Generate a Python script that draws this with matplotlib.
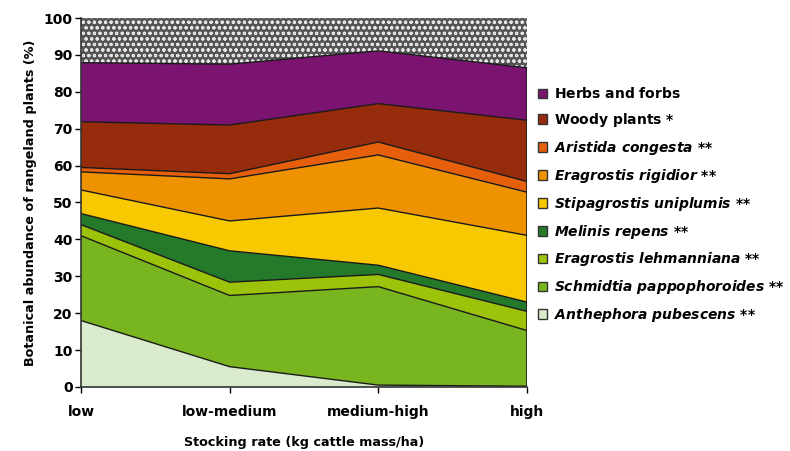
import numpy as np
import matplotlib
matplotlib.use("Agg")
import matplotlib.pyplot as plt
from matplotlib.patches import Patch

plt.rcParams['font.family'] = ['DejaVu Sans']
plt.rcParams['font.weight'] = 'bold'
plt.rcParams['mathtext.fontset'] = 'custom'
plt.rcParams['mathtext.bfit'] = 'DejaVu Sans:italic:bold'
plt.rcParams['mathtext.bf'] = 'DejaVu Sans:bold'
plt.rcParams['mathtext.it'] = 'DejaVu Sans:italic:bold'
plt.rcParams['mathtext.rm'] = 'DejaVu Sans:bold'
plt.rcParams['hatch.linewidth'] = 0.8

# stocking rate categories
rates = ["low", "low-medium", "medium-high", "high"]

# botanical abundance (%) per group, bottom to top of the stack
anthephora = [18.0, 5.5, 0.5, 0.2]
schmidtia = [23.0, 19.3, 26.7, 15.1]
lehmanniana = [3.0, 3.6, 3.3, 5.2]
melinis = [3.0, 8.5, 2.5, 2.5]
stipagrostis = [6.4, 8.1, 15.5, 18.1]
rigidior = [4.9, 11.4, 14.4, 11.7]
aristida = [1.2, 1.4, 3.5, 2.9]
woody = [12.4, 13.2, 10.4, 16.6]
herbs = [16.0, 16.5, 14.3, 14.2]

layers = [anthephora, schmidtia, lehmanniana, melinis, stipagrostis,
          rigidior, aristida, woody, herbs]
# names through mathtext so every legend row gets the same height
labels = [r"$\mathbfit{Anthephora\ pubescens}$ **",
          r"$\mathbfit{Schmidtia\ pappophoroides}$ **",
          r"$\mathbfit{Eragrostis\ lehmanniana}$ **",
          r"$\mathbfit{Melinis\ repens}$ **",
          r"$\mathbfit{Stipagrostis\ uniplumis}$ **",
          r"$\mathbfit{Eragrostis\ rigidior}$ **",
          r"$\mathbfit{Aristida\ congesta}$ **",
          r"$\mathbf{Woody\ plants}$ *",
          r"$\mathbf{Herbs\ and\ forbs}$"]
colors = ["#d9ebcc", "#78b51e", "#9dc20a", "#24792a", "#f8c800",
          "#ef9200", "#e6600c", "#962c0c", "#7a1470"]

x = np.arange(len(rates))

fig = plt.figure(figsize=(7.9, 4.51), dpi=100)
ax = fig.add_axes([0.1025, 0.142, 0.5645, 0.818])

stack = np.vstack(layers)
tops = np.cumsum(stack, axis=0)
bottoms = np.vstack([np.zeros(len(rates)), tops[:-1]])

# remaining share on top (dotted)
ax.fill_between(x, tops[-1], 100, facecolor="#555555", edgecolor="#e6e6e6",
                hatch="ooo", linewidth=0)

for b, t, c in zip(bottoms, tops, colors):
    ax.fill_between(x, b, t, facecolor=c, edgecolor="none", linewidth=0)
for t in tops:
    ax.plot(x, t, color="#1a1a1a", lw=1.0)
ax.plot([x[-1], x[-1]], [0, tops[-1][-1]], color="#1a1a1a", lw=1.2)

ax.set_xlim(0, 3)
ax.set_ylim(0, 100)
ax.set_yticks(range(0, 101, 10))
ax.set_xticks(x)
ax.set_xticklabels(rates)
ax.tick_params(axis='x', pad=9, labelsize=10, length=4, width=1, direction='out')
ax.tick_params(axis='y', labelsize=10, length=4, width=1, direction='out', pad=2)
for s in ["top", "right"]:
    ax.spines[s].set_visible(False)
for s in ["left", "bottom"]:
    ax.spines[s].set_linewidth(1.2)
    ax.spines[s].set_color("#333333")

ax.set_ylabel("Botanical abundance of rangeland plants (%)", fontsize=9.2,
              fontweight='bold', labelpad=5)
ax.set_xlabel("Stocking rate (kg cattle mass/ha)", fontsize=9.2,
              fontweight='bold', labelpad=12)

handles = [Patch(facecolor=c, edgecolor="#333333", linewidth=1.0) for c in colors]
leg = ax.legend(handles[::-1], labels[::-1], loc="upper left",
                bbox_to_anchor=(1.024, 0.815), frameon=False, fontsize=10,
                labelspacing=0.71, handlelength=0.7, handleheight=0.7,
                handletextpad=0.45, borderaxespad=0, borderpad=0)
for txt in leg.get_texts():
    txt.set_fontweight('bold')

fig.savefig("out.png", dpi=100)
